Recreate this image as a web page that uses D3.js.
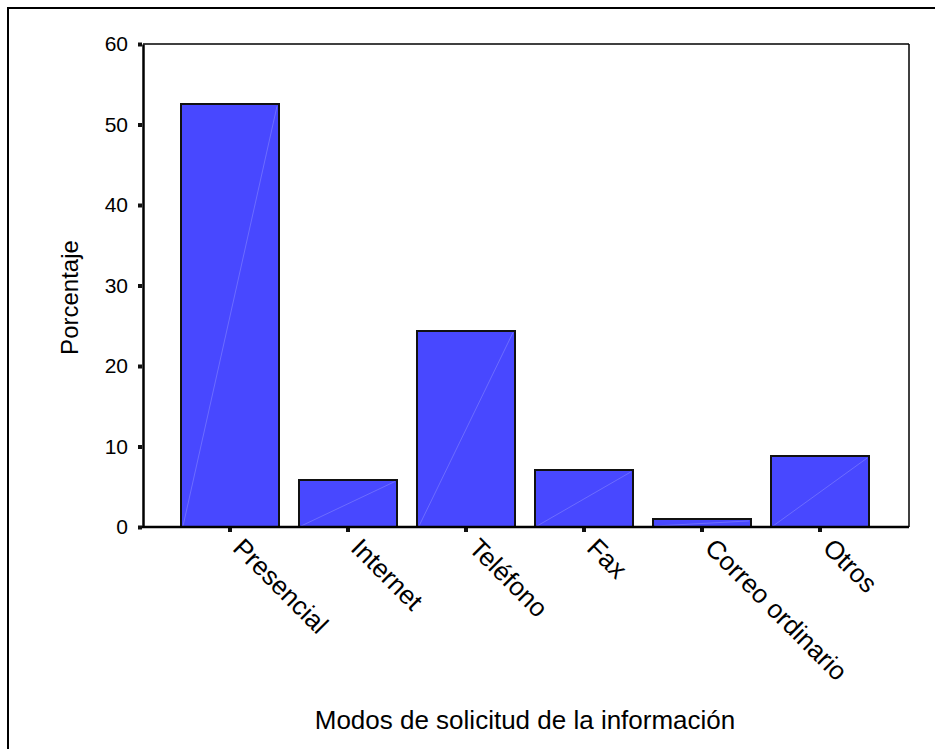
<!DOCTYPE html>
<html><head><meta charset="utf-8">
<script src="https://cdn.jsdelivr.net/npm/d3@7"></script>
<style>body{margin:0;background:#fff}svg{display:block;font-family:"Liberation Sans",Arial,sans-serif}</style>
</head><body>
<script>
const categories = ["Presencial","Internet","Teléfono","Fax","Correo ordinario","Otros"];
const values = [52.5, 5.9, 24.4, 7.1, 1.0, 8.8];
const yTicks = [0,10,20,30,40,50,60];
const yTitle = "Porcentaje";
const xTitle = "Modos de solicitud de la información";

(function(){
const W = 935, H = 749;
const FONT = "Liberation Sans, Arial, sans-serif";
const svg = d3.select("body").append("svg").attr("width", W).attr("height", H);

// outer frame
svg.append("rect").attr("x",8).attr("y",8).attr("width",W+20).attr("height",H+20)
  .attr("fill","none").attr("stroke","#000").attr("stroke-width",2);

const pLeft = 143, pRight = 909, pTop = 44, pBottom = 527;
const x = d3.scaleBand().domain(categories).range([171, 879]).paddingInner(0.17).paddingOuter(0.085);
const y = d3.scaleLinear().domain([0,60]).range([pBottom, pTop]);

// bars
const g = svg.append("g");
g.selectAll("rect.bar").data(categories).join("rect").attr("class","bar")
  .attr("x", d => x(d)).attr("y", (d,i) => y(values[i]))
  .attr("width", x.bandwidth()).attr("height", (d,i) => pBottom - y(values[i]))
  .attr("fill","#4848ff").attr("stroke","#111").attr("stroke-width",2)
  .attr("shape-rendering","crispEdges");
g.selectAll("line.diag").data(categories).join("line").attr("class","diag")
  .attr("x1", d => x(d)+2).attr("y1", pBottom-1)
  .attr("x2", d => x(d)+x.bandwidth()-2).attr("y2", (d,i) => y(values[i])+2)
  .attr("stroke","#9090ff").attr("stroke-width",1).attr("opacity",0.5);

// plot frame
svg.append("line").attr("x1",pLeft).attr("x2",pRight).attr("y1",pTop).attr("y2",pTop).attr("stroke","#000").attr("stroke-width",1.5);
svg.append("line").attr("x1",pRight).attr("x2",pRight).attr("y1",pTop).attr("y2",pBottom).attr("stroke","#000").attr("stroke-width",1.5);

// y axis
const yAxis = d3.axisLeft(y).tickValues(yTicks).tickSize(0).tickPadding(15);
const ya = svg.append("g").attr("transform",`translate(${pLeft},0)`).call(yAxis);
ya.attr("font-size",null).attr("font-family",null);
ya.select(".domain").attr("stroke","#000").attr("stroke-width",2.5);
ya.selectAll("text").attr("font-size",21).attr("fill","#000").attr("font-family",FONT);
ya.selectAll(".tick").append("rect").attr("x",-5).attr("y",-2).attr("width",4).attr("height",4).attr("fill","#111");

// x axis
const xAxis = d3.axisBottom(x).tickSize(0).tickFormat("");
const xa = svg.append("g").attr("transform",`translate(0,${pBottom})`).call(xAxis);
xa.attr("font-size",null).attr("font-family",null);
xa.select(".domain").remove();
svg.append("line").attr("x1",pLeft-1).attr("x2",pRight).attr("y1",pBottom).attr("y2",pBottom).attr("stroke","#000").attr("stroke-width",2.5);
xa.selectAll(".tick").append("rect").attr("x",-2).attr("y",1).attr("width",4).attr("height",4).attr("fill","#111");
xa.selectAll(".tick").append("text")
  .attr("transform","translate(8,16) rotate(45)")
  .attr("text-anchor","start").attr("dy","0.35em")
  .attr("font-size",26).attr("fill","#000").attr("font-family",FONT)
  .text(d => d);

// titles
svg.append("text").attr("transform",`translate(78,${(pTop+pBottom)/2 + 12}) rotate(-90)`)
  .attr("text-anchor","middle").attr("font-size",24).attr("font-family",FONT).text(yTitle);
svg.append("text").attr("x",525).attr("y",729).attr("text-anchor","middle").attr("font-size",26).attr("font-family",FONT).text(xTitle);
})();
</script>
</body></html>
